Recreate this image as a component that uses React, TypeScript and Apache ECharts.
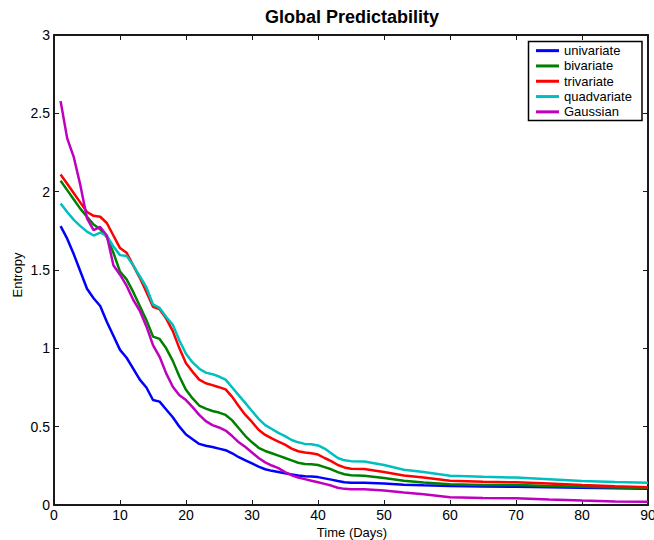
import React, { useEffect, useRef } from "react";
import * as echarts from "echarts";

const days = [
  1, 2, 3, 4, 5, 6, 7, 8, 9, 10, 11, 12, 13, 14, 15, 16, 17, 18, 19, 20, 21, 22, 23, 24, 25,
  26, 27, 28, 29, 30, 31, 32, 33, 34, 35, 36, 37, 38, 39, 40, 41, 42, 43, 44, 45,
  47, 50, 53, 56, 60, 65, 70, 75, 80, 85, 90,
];

const univariate = [
  1.78, 1.7, 1.6, 1.49, 1.38, 1.32, 1.27, 1.17, 1.08, 0.99, 0.94, 0.87, 0.8, 0.75, 0.67, 0.66,
  0.61, 0.56, 0.5, 0.45, 0.42, 0.39, 0.378, 0.37, 0.36, 0.35, 0.33, 0.305, 0.285, 0.265, 0.245,
  0.228, 0.218, 0.21, 0.202, 0.195, 0.188, 0.184, 0.182, 0.178, 0.17, 0.162, 0.153, 0.145, 0.142,
  0.142, 0.138, 0.13, 0.126, 0.122, 0.118, 0.116, 0.114, 0.11, 0.107, 0.104,
];

const bivariate = [
  2.07, 2.01, 1.95, 1.89, 1.84, 1.79, 1.76, 1.71, 1.61, 1.49, 1.44, 1.36, 1.27, 1.18, 1.075, 1.06,
  1.0, 0.92, 0.82, 0.735, 0.68, 0.635, 0.615, 0.6, 0.59, 0.575, 0.54, 0.49, 0.44, 0.4, 0.365,
  0.345, 0.33, 0.315, 0.3, 0.285, 0.27, 0.262, 0.26, 0.255, 0.242, 0.228, 0.21, 0.196, 0.19,
  0.186, 0.172, 0.155, 0.143, 0.132, 0.128, 0.127, 0.122, 0.117, 0.112, 0.108,
];

const trivariate = [
  2.11, 2.05, 1.99, 1.93, 1.87, 1.846, 1.84, 1.8, 1.72, 1.64, 1.61, 1.53, 1.45, 1.36, 1.265, 1.25,
  1.19, 1.11, 1.0, 0.905, 0.85, 0.8, 0.777, 0.765, 0.752, 0.738, 0.69, 0.63, 0.575, 0.53, 0.48,
  0.447, 0.425, 0.405, 0.385, 0.36, 0.343, 0.335, 0.33, 0.322, 0.3, 0.28, 0.255, 0.24, 0.232,
  0.23, 0.21, 0.188, 0.175, 0.155, 0.148, 0.145, 0.138, 0.128, 0.12, 0.114,
];

const quadvariate = [
  1.925, 1.87, 1.82, 1.78, 1.745, 1.72, 1.738, 1.72, 1.65, 1.595, 1.59, 1.53, 1.46, 1.39, 1.28,
  1.258, 1.2, 1.15, 1.05, 0.965, 0.91, 0.87, 0.845, 0.835, 0.82, 0.8, 0.75, 0.7, 0.65, 0.6, 0.55,
  0.51, 0.485, 0.46, 0.44, 0.415, 0.4, 0.39, 0.388, 0.38, 0.36, 0.33, 0.3, 0.285, 0.28,
  0.277, 0.255, 0.225, 0.21, 0.187, 0.18, 0.175, 0.165, 0.153, 0.147, 0.142,
];

const gaussian = [
  2.578, 2.34, 2.22, 2.04, 1.83, 1.755, 1.775, 1.72, 1.53, 1.47, 1.4, 1.31, 1.24, 1.14, 1.02,
  0.946, 0.84, 0.755, 0.7, 0.67, 0.625, 0.575, 0.535, 0.51, 0.495, 0.475, 0.44, 0.4, 0.37, 0.335,
  0.3, 0.272, 0.252, 0.235, 0.21, 0.19, 0.175, 0.165, 0.155, 0.145, 0.135, 0.124, 0.11, 0.103, 0.1,
  0.1, 0.093, 0.08, 0.068, 0.05, 0.045, 0.043, 0.035, 0.028, 0.023, 0.021,
];

const seriesNames = ["univariate", "bivariate", "trivariate", "quadvariate", "Gaussian"];
const seriesValues = [univariate, bivariate, trivariate, quadvariate, gaussian];
const seriesColors = ["#0000ff", "#008000", "#ff0000", "#00bfbf", "#bf00bf"];

const FONT = "Liberation Sans, Arial, sans-serif";

export default function App() {
  const ref = useRef<HTMLDivElement>(null);

  useEffect(() => {
    if (!ref.current) return;
    const chart = echarts.init(ref.current, undefined, { renderer: "svg" });
    const axisLine = { show: true, onZero: false, lineStyle: { color: "#1a1a1a", width: 2 } };
    const axisTick = { show: true, inside: true, length: 5, lineStyle: { color: "#1a1a1a", width: 1 } };
    const labelStyle = { color: "#000", fontSize: 14, fontFamily: FONT };

    chart.setOption({
      animation: false,
      backgroundColor: "#fff",
      grid: {
        left: 54,
        right: 6,
        top: 35,
        bottom: 35,
        containLabel: false,
        outerBoundsMode: "none",
      },
      graphic: [
        {
          type: "text",
          x: 352,
          y: 17,
          style: {
            text: "Global Predictability",
            textAlign: "center",
            textVerticalAlign: "middle",
            font: `bold 18px ${FONT}`,
            fill: "#000",
          },
        },
        {
          type: "text",
          x: 352,
          y: 532,
          style: {
            text: "Time (Days)",
            textAlign: "center",
            textVerticalAlign: "middle",
            font: `13px ${FONT}`,
            fill: "#000",
          },
        },
        {
          type: "text",
          x: 17,
          y: 275,
          rotation: Math.PI / 2,
          style: {
            text: "Entropy",
            textAlign: "center",
            textVerticalAlign: "middle",
            font: `13px ${FONT}`,
            fill: "#000",
          },
        },
        {
          type: "rect",
          z: 3,
          shape: { x: 528.5, y: 41.5, width: 113.5, height: 79 },
          style: { fill: "#fff", stroke: "#000", lineWidth: 1.5 },
        },
      ],
      legend: {
        data: seriesNames,
        orient: "vertical",
        left: 536,
        top: 43,
        z: 5,
        icon: "rect",
        itemWidth: 23,
        itemHeight: 3,
        itemGap: 0,
        itemTextGap: 7,
        padding: 0,
        borderWidth: 0,
        textStyle: { color: "#000", fontSize: 13, fontFamily: FONT, lineHeight: 15.3 },
      },
      xAxis: [
        {
          type: "value",
          min: 0,
          max: 90,
          interval: 10,
          position: "bottom",
          axisLine,
          axisTick,
          splitLine: { show: false },
          axisLabel: { ...labelStyle, margin: 3 },
        },
        {
          type: "value",
          min: 0,
          max: 90,
          interval: 10,
          position: "top",
          axisLine,
          axisTick,
          splitLine: { show: false },
          axisLabel: { show: false },
        },
      ],
      yAxis: [
        {
          type: "value",
          min: 0,
          max: 3,
          interval: 0.5,
          position: "left",
          axisLine,
          axisTick,
          splitLine: { show: false },
          axisLabel: { ...labelStyle, margin: 4 },
        },
        {
          type: "value",
          min: 0,
          max: 3,
          interval: 0.5,
          position: "right",
          axisLine,
          axisTick,
          splitLine: { show: false },
          axisLabel: { show: false },
        },
      ],
      series: seriesNames.map((name, i) => ({
        name,
        type: "line",
        xAxisIndex: 0,
        yAxisIndex: 0,
        showSymbol: false,
        symbol: "none",
        smooth: false,
        lineStyle: { color: seriesColors[i], width: 2.5 },
        itemStyle: { color: seriesColors[i] },
        data: days.map((d, j) => [d, seriesValues[i][j]]),
      })),
    });

    return () => chart.dispose();
  }, []);

  return (
    <div
      ref={ref}
      style={{ position: "fixed", left: 0, top: 0, width: 654, height: 540, background: "#fff" }}
    />
  );
}
